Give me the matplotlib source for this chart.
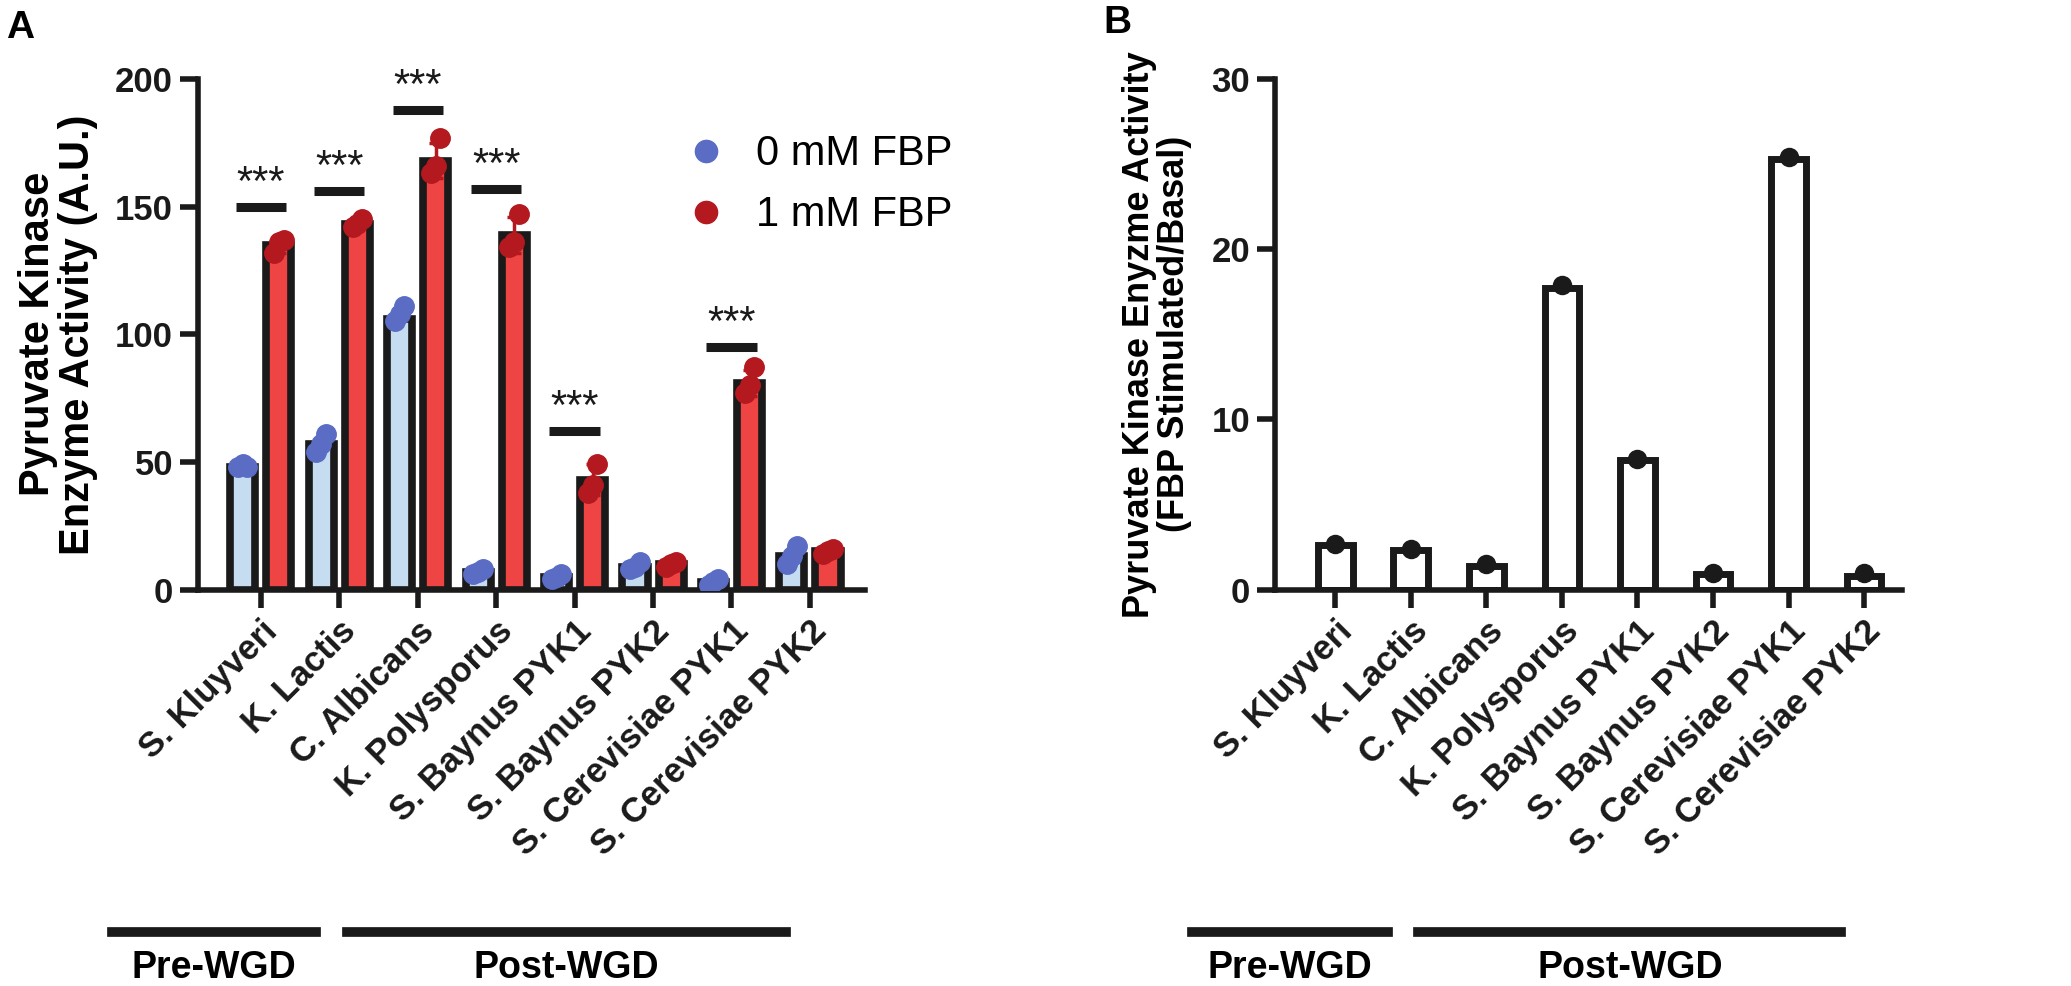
import numpy as np
import matplotlib.pyplot as plt
import matplotlib.transforms as mtransforms
from matplotlib.lines import Line2D

plt.rcParams['font.family'] = ['Liberation Sans', 'DejaVu Sans']

species = ['S. Kluyveri', 'K. Lactis', 'C. Albicans', 'K. Polysporus',
           'S. Baynus PYK1', 'S. Baynus PYK2', 'S. Cerevisiae PYK1', 'S. Cerevisiae PYK2']

# panel A: replicate activities (A.U.)
basal_pts = [[48, 49, 48], [54, 57, 61], [105, 108, 111], [6, 7, 8],
             [4, 5, 6], [8, 9, 11], [2, 3, 4], [10, 13, 17]]
fbp_pts = [[132, 136, 137], [142, 143, 145], [163, 166, 177], [134, 136, 147],
           [38, 41, 49], [9, 10, 11], [77, 80, 87], [14, 15, 16]]
basal_mean = [48, 57, 106, 7, 5, 9, 3, 13]
fbp_mean = [135, 143, 168, 139, 43, 10, 81, 15]
fbp_sd = [3, 2, 7, 7, 6, 1, 5, 1]

# significance bars: group index, bar height
sig_groups = [0, 1, 2, 3, 4, 6]
sig_heights = [150, 156, 188, 157, 62, 95]

# panel B: fold change FBP stimulated / basal
fold_mean = [2.6, 2.3, 1.4, 17.7, 7.6, 0.9, 25.3, 0.8]
fold_pts = [2.7, 2.4, 1.5, 17.9, 7.7, 1.0, 25.4, 1.0]

blue_face = '#c6dcf1'
blue_dot = '#5a6cc4'
red_face = '#ef4444'
red_dot = '#b3191f'
ink = '#1a1a1a'

fig = plt.figure(figsize=(20.71, 9.86), dpi=100)
axA = fig.add_axes([0.0956, 0.402, 0.322, 0.518])
axB = fig.add_axes([0.6156, 0.402, 0.3027, 0.518])

x = np.arange(len(species))
off = 0.23
bw = 0.32

axA.bar(x - off, basal_mean, width=bw, color=blue_face, edgecolor=ink, linewidth=5.5, zorder=2)
axA.bar(x + off, fbp_mean, width=bw, color=red_face, edgecolor=ink, linewidth=5.5, zorder=2)
axA.errorbar(x + off, fbp_mean, yerr=fbp_sd, fmt='none', ecolor=red_dot, elinewidth=2.5,
             capsize=5, capthick=2.5, zorder=3)
jit = [-0.06, 0.0, 0.06]
for i in range(len(species)):
    for j in range(3):
        axA.plot(x[i] - off + jit[j], basal_pts[i][j], 'o', ms=14, color=blue_dot, zorder=4)
        axA.plot(x[i] + off + jit[j], fbp_pts[i][j], 'o', ms=14, color=red_dot, zorder=4)

for g, h in zip(sig_groups, sig_heights):
    axA.plot([g - 0.32, g + 0.32], [h, h], color=ink, lw=6.5, solid_capstyle='butt', zorder=3)
    axA.text(g, h + 9, '***', ha='center', va='center', fontsize=30, color=ink)

axA.set_ylim(0, 200)
axA.set_yticks([0, 50, 100, 150, 200])
axA.set_xlim(-0.8, 7.7)
axA.set_ylabel('Pyruvate Kinase\nEnzyme Activity (A.U.)', fontsize=30, fontweight='bold',
               labelpad=12, linespacing=1.0)

legend_handles = [Line2D([], [], marker='o', ls='none', ms=16, color=blue_dot),
                  Line2D([], [], marker='o', ls='none', ms=16, color=red_dot)]
axA.legend(legend_handles, ['0 mM FBP', '1 mM FBP'], loc='upper left', bbox_to_anchor=(0.675, 0.965),
           frameon=False, fontsize=30, handlelength=1.0, handletextpad=0.7, labelspacing=0.5)

axB.bar(x, fold_mean, width=0.46, color='white', edgecolor=ink, linewidth=5, zorder=2)
axB.plot(x, fold_pts, 'o', ms=13, color=ink, zorder=4)
axB.set_ylim(0, 30)
axB.set_yticks([0, 10, 20, 30])
axB.set_xlim(-0.8, 7.5)
axB.set_ylabel('Pyruvate Kinase Enyzme Activity\n(FBP Stimulated/Basal)', fontsize=26,
               fontweight='bold', labelpad=14, linespacing=1.0)

for ax in (axA, axB):
    for s in ('top', 'right'):
        ax.spines[s].set_visible(False)
    for s in ('left', 'bottom'):
        ax.spines[s].set_linewidth(4)
        ax.spines[s].set_color(ink)
    ax.tick_params(axis='both', length=13, width=4, color=ink, labelsize=25, pad=5)
    ax.set_xticks(x)
    ax.set_xticklabels(species, rotation=45, ha='right', rotation_mode='anchor')
    for lab in ax.get_xticklabels() + ax.get_yticklabels():
        lab.set_fontweight('bold')
        lab.set_color(ink)

    # Pre-/Post-WGD group lines below the labels
    tr = mtransforms.blended_transform_factory(ax.transData, fig.transFigure)
    ax.add_line(Line2D([-1.9, 0.7], [0.055, 0.055], transform=tr, color=ink, lw=7, clip_on=False))
    ax.add_line(Line2D([1.1, 6.7], [0.055, 0.055], transform=tr, color=ink, lw=7, clip_on=False))
    ax.text(-0.6, 0.018, 'Pre-WGD', transform=tr, ha='center', va='center', fontsize=27, fontweight='bold')
    ax.text(3.9, 0.018, 'Post-WGD', transform=tr, ha='center', va='center', fontsize=27, fontweight='bold')

fig.text(0.003, 0.99, 'A', fontsize=28, fontweight='bold', va='top')
fig.text(0.533, 0.995, 'B', fontsize=28, fontweight='bold', va='top')

fig.savefig('out.png', dpi=100)
